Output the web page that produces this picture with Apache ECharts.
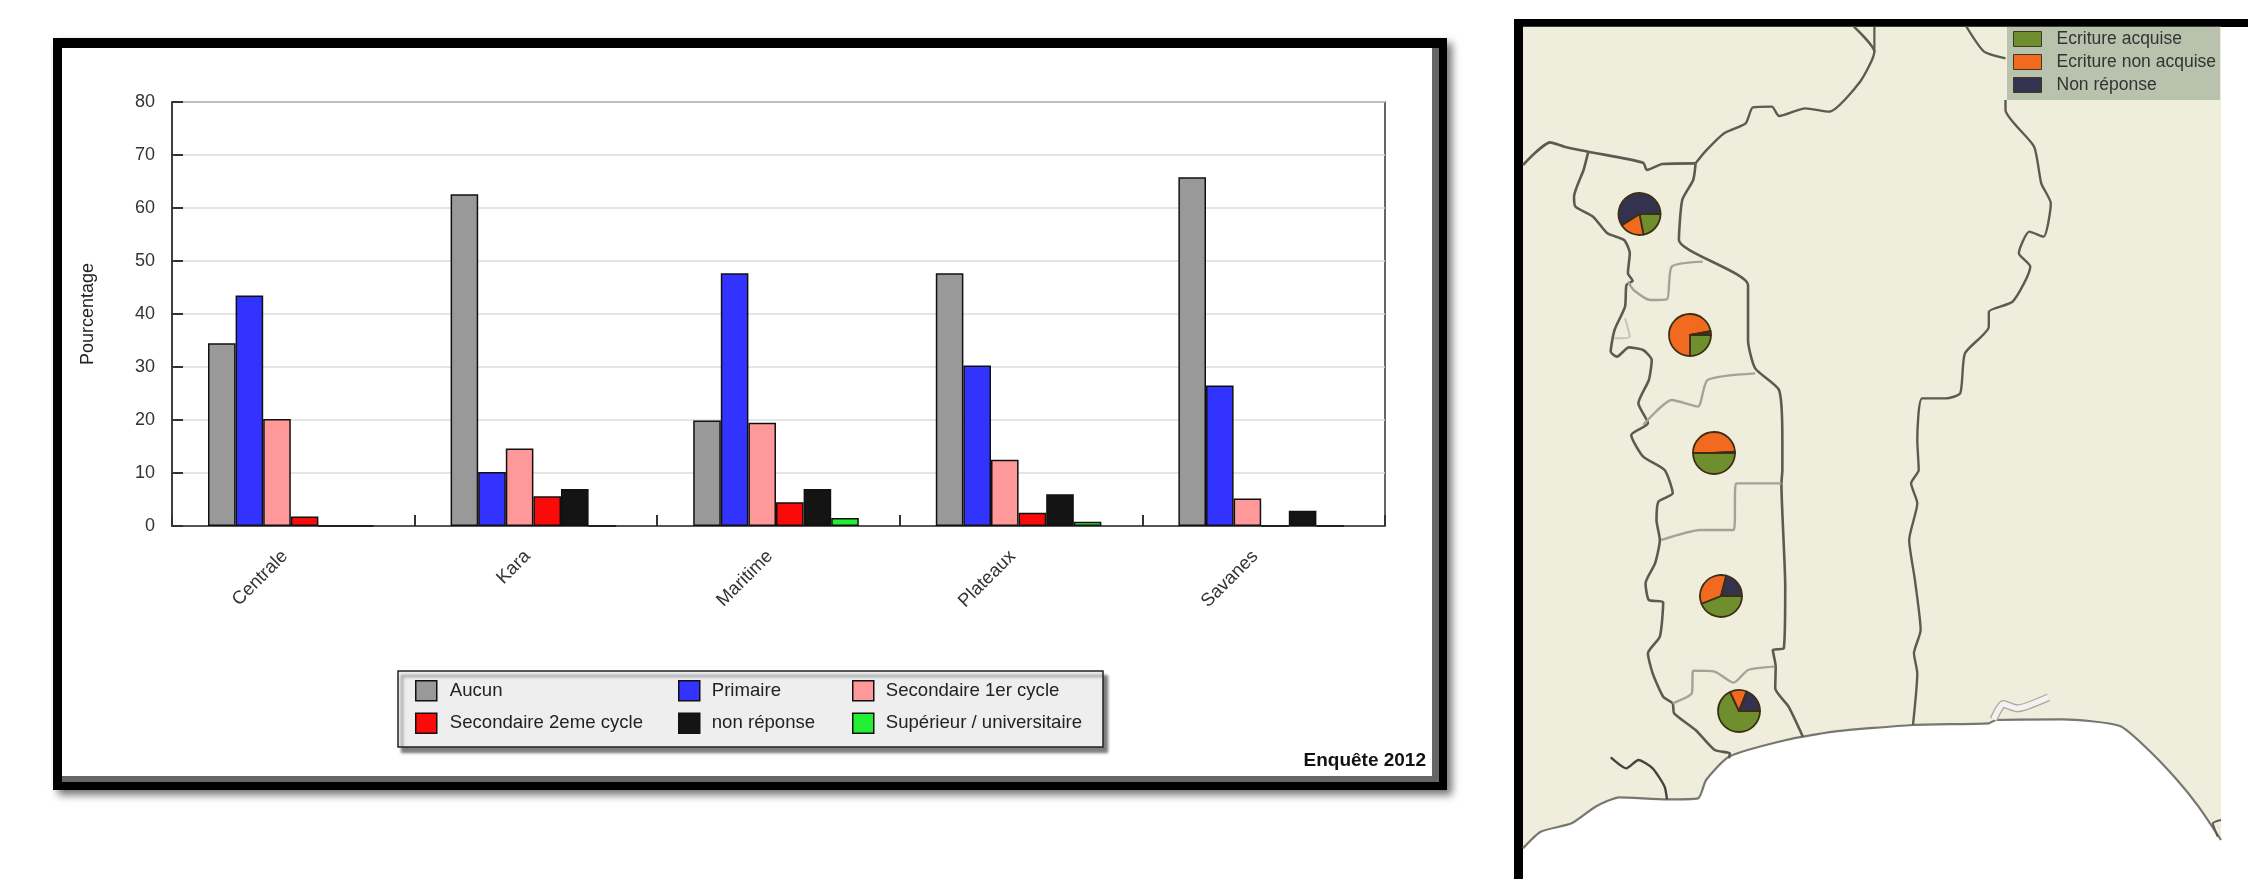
<!DOCTYPE html>
<html>
<head>
<meta charset="utf-8">
<style>html,body{margin:0;padding:0;background:#fff}#c{width:2248px;height:879px}</style>
<script src="https://cdn.jsdelivr.net/npm/echarts@6/dist/echarts.min.js"></script>
</head>
<body>
<div id="c"></div>
<script>
// ---- bar chart data ----
const categories = ['Centrale', 'Kara', 'Maritime', 'Plateaux', 'Savanes'];
const aucun = [34.5, 62.6, 19.9, 47.7, 65.8];
const primaire = [43.5, 10.2, 47.7, 30.3, 26.5];
const secondaire1 = [20.2, 14.6, 19.5, 12.5, 5.2];
const secondaire2 = [1.8, 5.6, 4.5, 2.5, 0];
const nonReponse = [0, 7.0, 7.0, 6.0, 2.9];
const superieur = [0, 0, 1.5, 0.8, 0];

// ---- map pies: Ecriture acquise, Ecriture non acquise, Non réponse ----
const pieNames = ['Ecriture acquise', 'Ecriture non acquise', 'Non réponse'];
const pieSavanes = [22, 19, 59];
const pieKara = [25, 72, 3];
const pieCentrale = [50, 49, 1];
const piePlateaux = [44, 35, 21];
const pieMaritime = [68, 13, 19];

// ---- map outlines, in map units ----
const coast = [[48,2515],[85,2465],[150,2440],[200,2390],[250,2362],[350,2368],[415,2365],[432,2310],[480,2240],[600,2190],[700,2165],[866,2145],[1025,2140],[1040,2130],[1180,2128],[1300,2148],[1360,2220],[1420,2310],[1465,2390],[1512,2490]];
const northWest = [[48,465],[105,397],[135,410],[185,425],[300,458],[308,480],[340,462],[410,460]];
const togoWest = [[185,425],[175,480],[155,560],[158,590],[195,620],[225,670],[260,690],[272,730],[268,790],[278,812],[265,825],[262,890],[240,960],[232,1025],[245,1040],[270,1012],[300,1020],[318,1050],[312,1110],[290,1180],[310,1240],[275,1275],[300,1340],[345,1380],[362,1450],[332,1475],[328,1530],[335,1590],[325,1660],[305,1720],[312,1770],[342,1777],[335,1880],[310,1930],[320,1990],[342,2060],[362,2080],[365,2110],[410,2160],[450,2220],[482,2230],[480,2245]];
const togoEast = [[410,460],[405,510],[382,570],[375,690],[520,825],[520,990],[535,1075],[585,1140],[592,1290],[592,1380],[590,1420],[598,1730],[595,1915],[572,1920],[578,1970],[577,2035],[605,2090],[635,2180]];
const beninNorth = [[410,460],[430,425],[470,370],[515,340],[530,292],[570,290],[585,318],[640,295],[690,305],[755,215],[785,125],[742,50]];
const nigerStub = [[785,50],[785,125]];
const topRight = [[978,50],[1015,125],[1060,145]];
const beninEast = [[1060,270],[1060,300],[1120,410],[1135,520],[1155,580],[1140,680],[1110,665],[1088,730],[1112,770],[1075,875],[1025,905],[1025,950],[975,1030],[965,1150],[935,1165],[885,1165],[875,1290],[878,1380],[862,1420],[875,1480],[858,1590],[870,1710],[882,1860],[868,1930],[875,1990],[866,2145]];
const ghanaRiver = [[232,2242],[265,2275],[290,2250],[320,2275],[345,2330],[350,2368]];
const cornerRiver = [[1512,2430],[1495,2440],[1505,2480]];
const regionA = [[268,815],[280,840],[315,870],[350,868],[360,770],[425,755]];
const regionB = [[300,1245],[360,1170],[415,1190],[435,1110],[535,1090]];
const regionC = [[338,1590],[420,1560],[490,1560],[495,1420],[590,1420]];
const regionD = [[362,2080],[402,2050],[405,1982],[450,1985],[490,2018],[520,1980],[575,1970]];
const voltaShore = [[262,925],[272,980],[240,985]];
const lagoon = [[1035,2128],[1055,2082],[1085,2095],[1150,2062]];

const font = 'Liberation Sans';
const barLine = {borderColor: '#111', borderWidth: 1.5};
const barSeries = [
  ['Aucun', aucun, '#999999'],
  ['Primaire', primaire, '#3333ff'],
  ['Secondaire 1er cycle', secondaire1, '#ff9999'],
  ['Secondaire 2eme cycle', secondaire2, '#fb0a0a'],
  ['non réponse', nonReponse, '#141414'],
  ['Supérieur / universitaire', superieur, '#22ee33']
].map(([name, data, color]) => ({
  type: 'bar', name, data, xAxisIndex: 1, yAxisIndex: 1, barWidth: 27.6, barGap: 0,
  itemStyle: Object.assign({color}, barLine), silent: true
}));

function mapLine(data, color, width, z) {
  return {type: 'line', data, xAxisIndex: 2, yAxisIndex: 2, showSymbol: false, symbol: 'none', silent: true,
    z: z || 3, smooth: 0.2, lineStyle: {color, width}, legendHoverLink: false};
}
const darkEdge = '#5b5b52', lightEdge = '#a3a398';
const mapSeries = [
  Object.assign(mapLine(coast, '#777770', 2.2, 2), {areaStyle: {color: '#ffffff', opacity: 1, origin: 'end'}}),
  mapLine(northWest, darkEdge, 2.6), mapLine(togoWest, darkEdge, 2.6), mapLine(togoEast, darkEdge, 2.6),
  mapLine(beninNorth, darkEdge, 2.4), mapLine(nigerStub, darkEdge, 2.2), mapLine(topRight, darkEdge, 2.2),
  mapLine(beninEast, darkEdge, 2.4), mapLine(ghanaRiver, '#444440', 2.4), mapLine(cornerRiver, darkEdge, 2),
  mapLine(regionA, lightEdge, 2.4), mapLine(regionB, lightEdge, 2.4), mapLine(regionC, lightEdge, 2.4),
  mapLine(regionD, lightEdge, 2.4), mapLine(voltaShore, '#c4c4b8', 2),
  mapLine(lagoon, '#a8a89f', 8), mapLine(lagoon, '#f2f2f0', 5.4)
];

const pieColors = ['#6f8f2e', '#f26a20', '#33334f'];
const pieSeries = [
  [pieSavanes, 1639.5, 214], [pieKara, 1690, 335], [pieCentrale, 1714, 453],
  [piePlateaux, 1721, 596], [pieMaritime, 1739, 711]
].map(([vals, cx, cy]) => ({
  type: 'pie', center: [cx, cy], radius: [0, 21], startAngle: 0, clockwise: true, silent: true, z: 5,
  label: {show: false}, labelLine: {show: false},
  itemStyle: {borderColor: '#3d2f14', borderWidth: 1.8},
  data: vals.map((v, i) => ({name: pieNames[i], value: v, itemStyle: {color: pieColors[i]}}))
}));

function col(names, left, pad) {
  return {data: names, left, top: 680, orient: 'vertical', padding: 0, itemWidth: 21, itemHeight: 20, itemGap: 11,
    selectedMode: false, icon: 'rect', itemStyle: {borderColor: '#111', borderWidth: 1.5},
    textStyle: {fontFamily: font, fontSize: 18.6, color: '#222', padding: [0, 0, 0, pad]}};
}

const chart = echarts.init(document.getElementById('c'), null, {renderer: 'canvas'});
chart.setOption({
  animation: false,
  backgroundColor: '#ffffff',
  title: {text: 'Enquête 2012', right: 822, top: 751, padding: 0,
    textStyle: {fontFamily: font, fontSize: 19, fontWeight: 'bold', color: '#111'}},
  graphic: [
    {type: 'rect', z: -5, shape: {x: 53, y: 38, width: 1394, height: 752}, style: {fill: '#000', shadowBlur: 8, shadowOffsetX: 5, shadowOffsetY: 5, shadowColor: 'rgba(0,0,0,0.55)'}},
    {type: 'rect', z: -4, shape: {x: 62, y: 48, width: 1377, height: 734}, style: {fill: '#666'}},
    {type: 'rect', z: -3, shape: {x: 62, y: 48, width: 1370, height: 728}, style: {fill: '#fff'}},
    {type: 'rect', z: -2, shape: {x: 398, y: 671, width: 705, height: 76}, style: {fill: '#eeeeee', stroke: '#222', lineWidth: 1.5, shadowBlur: 3, shadowOffsetX: 4, shadowOffsetY: 5, shadowColor: 'rgba(0,0,0,0.5)'}},
    {type: 'rect', z: -2, shape: {x: 1514, y: 19, width: 734, height: 8}, style: {fill: '#000'}},
    {type: 'rect', z: -2, shape: {x: 1514, y: 19, width: 9, height: 860}, style: {fill: '#000'}}
  ],
  legend: [
    col(['Aucun', 'Secondaire 2eme cycle'], 415, 8),
    col(['Primaire', 'non réponse'], 678, 7),
    col(['Secondaire 1er cycle', 'Supérieur / universitaire'], 852, 7),
    {data: pieNames, left: 2007, top: 27, orient: 'vertical', padding: [3, 4, 6, 6], itemWidth: 28, itemHeight: 15, itemGap: 5,
      backgroundColor: '#b9c2ad', selectedMode: false, icon: 'rect',
      itemStyle: {borderColor: '#3d3a20', borderWidth: 1},
      textStyle: {fontFamily: font, fontSize: 17.5, color: '#333', padding: [0, 0, 0, 10]}}
  ],
  grid: [
    {left: 172, top: 102, width: 1213, height: 424, show: true, borderColor: '#333', borderWidth: 1.5, backgroundColor: 'transparent'},
    {left: 169.5, top: 102, width: 1213, height: 424},
    {left: 1523, top: 26.67, width: 698, height: 852.33, show: true, backgroundColor: '#efeedd', borderWidth: 0}
  ],
  xAxis: [
    {type: 'category', gridIndex: 0, data: categories,
      axisLine: {lineStyle: {color: '#333', width: 1.5}},
      axisTick: {show: true, inside: true, length: 11, lineStyle: {color: '#333', width: 2}},
      axisLabel: {rotate: 45, margin: 19, interval: 0, padding: [0, 12, 0, 0], fontFamily: font, fontSize: 18.5, color: '#333'}},
    {type: 'category', gridIndex: 1, data: categories, show: false},
    {type: 'value', gridIndex: 2, min: 48, max: 1512, show: false}
  ],
  yAxis: [
    {type: 'value', gridIndex: 0, min: 0, max: 80, interval: 10,
      name: 'Pourcentage', nameLocation: 'middle', nameGap: 75, nameRotate: 90,
      nameTextStyle: {fontFamily: font, fontSize: 18, color: '#222'},
      axisLine: {show: true, lineStyle: {color: '#333', width: 1.5}},
      axisTick: {show: true, inside: true, length: 11, lineStyle: {color: '#333', width: 2}},
      axisLabel: {margin: 17, padding: [3, 0, 0, 0], fontFamily: font, fontSize: 18, color: '#333'},
      splitLine: {show: true, lineStyle: {color: '#dddddd', width: 1.5}}},
    {type: 'value', gridIndex: 1, min: 0, max: 80, interval: 10, show: false, splitLine: {show: false}},
    {type: 'value', gridIndex: 2, min: 50, max: 2607, inverse: true, show: false, splitLine: {show: false}}
  ],
  series: barSeries.concat(mapSeries, pieSeries)
});
</script>
</body>
</html>
